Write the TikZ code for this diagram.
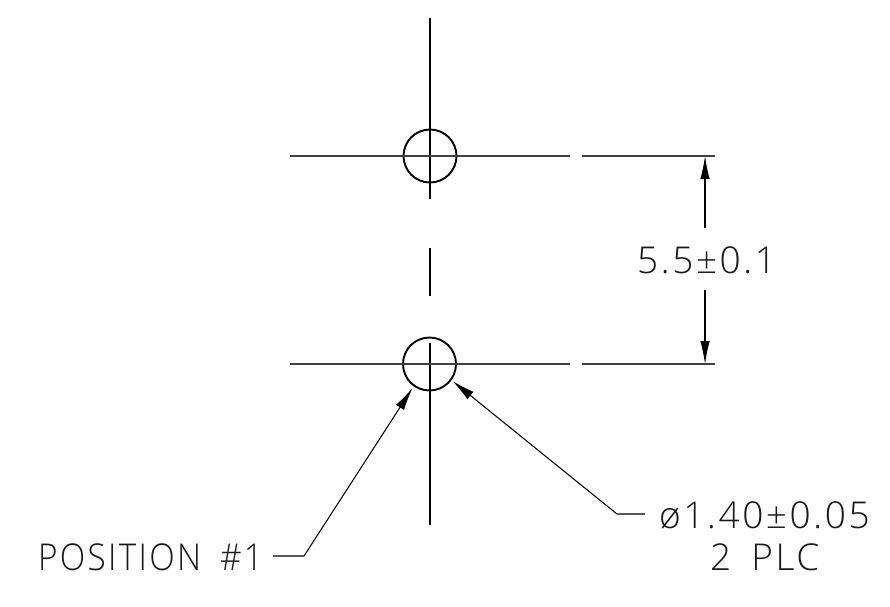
\documentclass[tikz,border=0pt]{standalone}
\usepackage{fontspec}
\setmainfont{Liberation Sans}
\usetikzlibrary{arrows.meta}
\newfontfamily\cadfont[LetterSpace=7]{Open Sans Light}
\tikzset{
  hole/.style={circle,draw=black,line width=1.9pt,minimum size=53pt,inner sep=0pt},
  cline/.style={draw=black,line width=1.05pt},
  hline/.style={draw=black!75,line width=1.5pt},
  tip/.style={-{Latex[length=23pt,width=9.5pt]}},
  cadtext/.style={inner sep=0pt,anchor=base west,text=black!90,font=\cadfont\fontsize{37}{37}\selectfont}
}
\begin{document}
\begin{tikzpicture}[x=1pt,y=-1pt]
\useasboundingbox (0,0) rectangle (890,606);
\fill[white] (0,0) rectangle (890,606);
% reference coordinates
\coordinate (vt1) at (430,18);
\coordinate (vt2) at (430,199);
\coordinate (vm1) at (430,248);
\coordinate (vm2) at (430,296);
\coordinate (vb1) at (430,343);
\coordinate (vb2) at (430,525);
\coordinate (ha1) at (290,156);
\coordinate (ha2) at (570,156);
\coordinate (ha3) at (582,156);
\coordinate (ha4) at (715,156);
\coordinate (hb1) at (290,364);
\coordinate (hb2) at (570,364);
\coordinate (hb3) at (582,364);
\coordinate (hb4) at (715,364);
\coordinate (d1) at (705,156);
\coordinate (d2) at (705,228);
\coordinate (d3) at (705,290);
\coordinate (d4) at (705,364);
\coordinate (l1) at (273,556);
\coordinate (l2) at (304,556);
\coordinate (l3) at (412.5,388);
\coordinate (r1) at (645,514);
\coordinate (r2) at (617,514);
\coordinate (r3) at (452.5,381);
% holes
\node[hole] (top) at (430,156) {};
\node[hole] (bot) at (429.5,364) {};
% lines
\draw[cline] (vt1) -- (vt2);
\draw[cline] (vm1) -- (vm2);
\draw[cline] (vb1) -- (vb2);
\draw[hline] (ha1) -- (ha2);
\draw[hline] (ha3) -- (ha4);
\draw[hline] (hb1) -- (hb2);
\draw[hline] (hb3) -- (hb4);
% dimension
\draw[cline,tip] (d2) -- (d1);
\draw[cline,tip] (d3) -- (d4);
% leaders
\draw[cline,tip] (l1) -- (l2) -- (l3);
\draw[cline,tip] (r1) -- (r2) -- (r3);
% text
\node[cadtext] (dim) at (637,273) {5.5±0.1};
\node[cadtext,xscale=0.9] (pos) at (38,570) {POSITION\hspace{21pt}\#1};
\node[cadtext] (dia) at (659,528) {ø1.40±0.05};
\node[cadtext] (plc) at (710,570) {2\hspace{20pt}PLC};
\end{tikzpicture}
\end{document}
